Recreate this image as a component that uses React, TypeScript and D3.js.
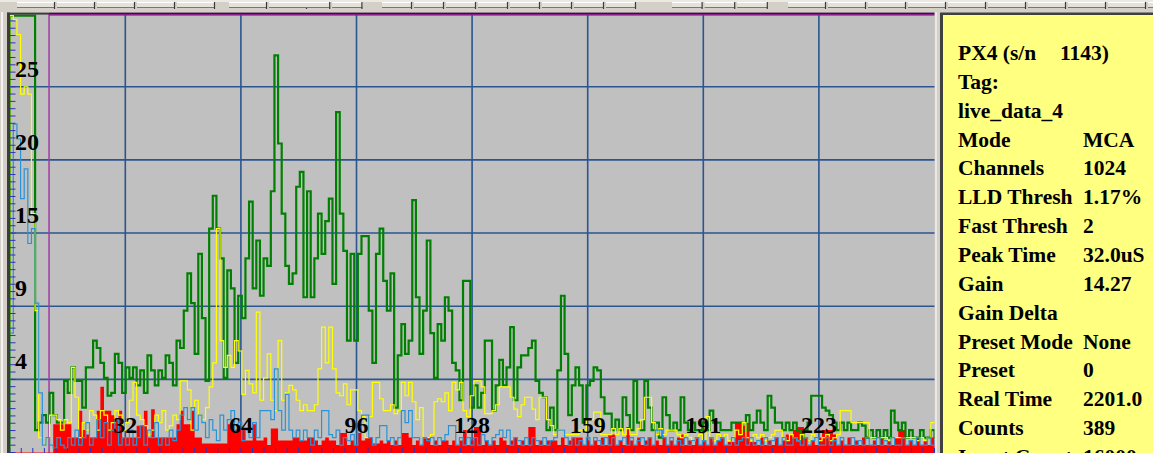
import React from 'react';
import * as d3 from 'd3';

// Spectrum counts per channel (256 channels shown), four detector traces.
const greenCounts = [
  40, 40, 40, 40, 40, 40, 40, 1.5, 2, 2.5, 2, 4, 2.5, 2, 2, 4.8,
  4, 5.7, 4.8, 4.8, 3, 5.7, 5.7, 7.5, 7, 6, 5, 3.8, 4, 6.6, 6, 4,
  5.7, 5, 5.7, 4.5, 5.5, 4, 6.5, 5.5, 4.5, 5.5, 5, 6.5, 6, 4.5, 7.5, 7,
  9.5, 12, 10, 6.6, 13.3, 9, 4.8, 15, 17.2, 15, 13, 5, 12.2, 11, 6, 10.5,
  9, 13, 16.8, 11, 14.2, 10.5, 13, 12.5, 17.5, 26.6, 20.7, 16, 12.5, 11.3, 12, 17.8,
  18.8, 10.4, 17.5, 10.4, 13, 16, 13.3, 15.5, 17, 11.3, 22.8, 16, 13.5, 7.5, 13.3, 7.5,
  13.3, 14.5, 14.5, 9.5, 6, 13.3, 15, 11.5, 9.5, 12, 3, 6.5, 8.6, 6.6, 7.5, 16.9,
  10.4, 6.6, 9.5, 14.2, 8, 5, 8.6, 7.5, 10.4, 9.5, 6, 5.5, 3.5, 11.5, 11.5, 3,
  4.5, 3, 4, 7.5, 7.5, 2.8, 4.5, 6.2, 4.5, 5.7, 8.4, 3.5, 5.7, 6.5, 6.5, 7,
  7.5, 4.8, 4, 3.7, 1.5, 3, 1.5, 5.5, 10.5, 6.6, 2.5, 4.5, 5.7, 4.5, 2, 4.5,
  4.8, 5.7, 5.5, 3.7, 2.6, 2.6, 1.5, 2.2, 1.5, 3.7, 2.5, 1.5, 4.8, 2, 1.5, 4.8,
  3, 1.5, 2, 1, 3.7, 2.5, 1.5, 2, 1.5, 3.7, 2, 1.5, 2, 1.5, 1.5, 2,
  1.5, 2.8, 2, 2, 1.5, 1.5, 1.5, 2, 2, 2, 1.5, 2.5, 1.5, 2, 2.8, 2,
  1.5, 3.8, 3, 2, 2, 1.5, 2, 1.5, 2, 1.5, 1, 1.5, 2, 3.8, 3.8, 3.8,
  3, 2.8, 2.5, 2, 1.5, 2, 1.5, 2, 1.5, 1.5, 2, 1.8, 1, 1.5, 1, 1.5,
  1, 1.5, 1, 2.8, 2, 1.5, 2, 1, 1.5, 1, 1, 1.5, 1, 1, 1.5, 1,
];

const yellowCounts = [
  40, 29, 28, 24, 24.5, 24, 16, 9.5, 1, 0.5, 1, 2.5, 2.5, 2.2, 1.5, 2.2,
  2, 5.7, 3.7, 1, 2, 1.5, 2.8, 2.5, 1.5, 2.8, 2.5, 1.5, 2, 2.8, 2.5, 1.5,
  2, 3.5, 4.7, 2.5, 2.2, 1.8, 1.2, 1.5, 2.5, 2, 2.8, 1.5, 1.8, 2.5, 2.2, 4.8,
  4.8, 4.2, 1.5, 3.5, 2.5, 2.2, 3, 4.4, 6, 15, 7.5, 5.7, 6.5, 5.7, 7.5, 6.8,
  3.9, 5.5, 4.6, 4, 9.4, 3.5, 5, 6.6, 3.5, 2.8, 7.5, 3.5, 4, 4.5, 4.2, 3.5,
  2.8, 3.2, 2.8, 2.8, 3.2, 5.6, 8.4, 6, 8.4, 5.6, 4, 3.8, 4.6, 3.2, 4.2, 4.2,
  2.8, 2.4, 1, 2.4, 4.7, 4.7, 3.6, 2.8, 2.8, 3.2, 2.6, 2.8, 4.7, 3.8, 4.7, 3.4,
  2.2, 3, 1, 1, 1.2, 3.4, 3.6, 3.4, 4, 2.8, 4.7, 4.2, 4.7, 2.8, 2.4, 3.8,
  4.8, 4.8, 4.4, 2.6, 2.6, 2.8, 3.2, 4.4, 4.4, 4.4, 3.7, 2.9, 2.4, 3.2, 3.7, 3.7,
  2.9, 2.2, 3.7, 3.7, 2.2, 1.8, 1.2, 1.5, 1.5, 1.2, 1.2, 1.2, 1.2, 1.5, 1.5, 2.2,
  2.2, 2.7, 2.7, 1.2, 1.2, 1.2, 1.6, 1.2, 1.6, 1.2, 1.6, 1.2, 1.2, 1.6, 2.2, 3.7,
  3.7, 2, 1.2, 1.6, 1.2, 1.5, 1.5, 1.5, 1.2, 1, 1.2, 1, 0.8, 1, 1.2, 0.8,
  2.4, 1, 0.8, 1.2, 1, 1.2, 0.8, 1, 1.5, 1.2, 2, 1, 0.8, 1.2, 1, 1.2,
  0.8, 1, 1.2, 1.5, 1.5, 1, 0.8, 1.2, 1, 0.8, 1.2, 1, 0.8, 1.2, 1, 0.8,
  1, 1.2, 0.8, 1, 1.2, 2.8, 2.8, 2.8, 2, 2, 2, 2, 2, 1, 1, 1,
  1, 1, 0.8, 1, 1, 1, 1, 1, 1, 1, 0.8, 1, 0.8, 1, 2, 2,
];

const blueCounts = [
  8, 22, 21, 17, 19, 14, 15, 10, 4, 0.5, 1, 0.5, 0.3, 1, 0.5, 0.3,
  1, 0.5, 1.5, 0.5, 1, 2, 0.5, 1, 2.2, 1, 2, 0.5, 1.5, 2.2, 0.5, 1,
  0.5, 1.5, 0.5, 1, 1.8, 0.5, 1.5, 1, 2, 0.5, 1, 0.5, 1.5, 0.8, 1.5, 2.5,
  3, 2.2, 3, 1.5, 2.5, 2, 1, 2.2, 1.5, 0.8, 2.5, 1.5, 2.2, 2.8, 1.5, 2,
  0.8, 1.5, 1, 2, 1, 2.8, 2.8, 2.8, 2.2, 5.6, 2.8, 1.5, 3.9, 1.5, 1, 1.5,
  0.8, 1.5, 1, 0.5, 1.5, 1, 2.8, 2.8, 1.2, 1, 1.5, 0.5, 1, 0.8, 1.2, 0.5,
  1.5, 2.5, 2.5, 1, 0.5, 1, 1.8, 1.8, 0.8, 1, 0.5, 1, 2.8, 2, 2.8, 1,
  1, 0.5, 1, 0.8, 1, 0.5, 1, 0.8, 1.2, 1.8, 1.8, 0.5, 1, 0.5, 1, 0.5,
  1, 0.5, 1.2, 0.8, 0.5, 1, 1.2, 1.5, 1, 1.5, 0.5, 1, 0.8, 0.5, 1, 0.5,
  1, 0.8, 0.5, 1, 0.5, 0.8, 1, 1.5, 1.5, 1, 0.5, 1, 0.5, 0.8, 0.5, 1,
  0.5, 1, 0.8, 0.5, 1, 0.5, 1, 0.5, 0.8, 1, 0.5, 1, 0.5, 0.8, 1, 0.5,
  1, 0.5, 1.5, 1.5, 1, 0.5, 1, 0.5, 0.8, 0.5, 1, 0.5, 0.8, 1, 0.5, 0.8,
  0.5, 1, 0.5, 0.8, 1, 0.5, 0.5, 1, 0.5, 0.8, 1, 0.5, 1, 0.5, 0.8, 0.5,
  1, 0.5, 0.8, 1, 0.5, 1, 0.5, 0.5, 1, 0.8, 0.5, 1, 0.5, 0.8, 1, 0.5,
  0.5, 1, 0.5, 0.8, 0.5, 1, 0.5, 0.5, 1, 0.5, 0.8, 0.5, 1, 0.5, 0.5, 1,
  0.5, 0.8, 0.5, 1, 0.5, 0.5, 1, 0.5, 0.8, 0.5, 1, 0.5, 0.5, 1, 0.5, 0.8,
];

const redCounts = [
  0, 0, 0, 0, 0, 0, 0, 0, 0, 0, 0, 0, 1.9, 1.9, 1.9, 1.9,
  1.9, 1, 1, 2.8, 1.5, 1.2, 1, 1, 2.8, 4.4, 2.8, 2.8, 2.5, 2.2, 2.8, 1,
  1, 1, 1, 1.8, 1.8, 2.8, 1, 2.9, 1, 1, 1, 1, 1, 1, 1.9, 2.8,
  1.9, 1.9, 2.8, 1, 1, 0.6, 0.6, 0.6, 0.6, 0.6, 0.6, 0.6, 1.9, 1.9, 1.5, 1.5,
  1.5, 0.8, 0.8, 1.9, 0.8, 0.8, 1, 0.5, 1.6, 1.6, 0.8, 0.8, 0.8, 0.8, 1, 1,
  0.8, 0.8, 1, 1, 0.8, 0.5, 0.8, 1, 0.8, 0.8, 0.5, 1.3, 1.3, 0.5, 0.8, 0.5,
  1.3, 0.8, 1, 1, 0.6, 0.6, 0.8, 0.6, 0.8, 0.5, 0.8, 0.5, 1.3, 1.3, 1, 0.5,
  0.8, 0.5, 1, 1, 0.5, 0.8, 0.5, 0.8, 0.8, 0.5, 0.8, 0.5, 0.8, 1.5, 0.5, 0.8,
  1.7, 1.7, 0.5, 0.8, 0.5, 0.8, 0.5, 1, 0.8, 0.5, 0.8, 1, 0.5, 0.8, 0.5, 1.7,
  1.7, 0.5, 0.8, 0.5, 0.8, 0.8, 0.8, 0.5, 1, 0.5, 0.8, 1, 1, 1, 0.5, 0.8,
  0.5, 0.8, 0.5, 1, 0.5, 1.2, 1.2, 0.5, 0.8, 0.5, 1.7, 0.8, 0.5, 1, 0.5, 0.8,
  1, 0.5, 0.8, 0.5, 1, 0.5, 0.8, 0.5, 1, 1.2, 0.5, 0.8, 0.5, 1, 0.5, 0.8,
  0.5, 1, 0.5, 0.8, 1, 0.5, 0.7, 0.7, 2, 2, 1.8, 2, 0.7, 0.7, 0.5, 1,
  0.5, 0.8, 0.5, 1, 0.5, 0.8, 1.2, 1.2, 1.5, 1.7, 1.7, 1, 0.5, 0.8, 0.5, 1,
  1.5, 1.5, 1.5, 1.2, 0.5, 0.8, 0.5, 1, 0.5, 0.8, 0.5, 1, 0.5, 0.5, 0.8, 0.5,
  1, 0.5, 0.8, 0.5, 1, 1.5, 1.5, 0.5, 0.8, 0.5, 1, 0.5, 0.8, 0.5, 1, 0.5,
];

const xTickLabels = ['32', '64', '96', '128', '159', '191', '223'];
const yTickLabels = ['4', '9', '15', '20', '25'];

const channelMax = 255;
const countMax = 29.4;
const roiStartChannel = 10.85;

const infoLabels = [
  'PX4 (s/n', 'Tag:', 'live_data_4', 'Mode', 'Channels', 'LLD Thresh', 'Fast Thresh',
  'Peak Time', 'Gain', 'Gain Delta', 'Preset Mode', 'Preset', 'Real Time', 'Counts', 'Input Counts',
];
const infoValues = [
  '1143)', '', '', 'MCA', '1024', '1.17%', '2', '32.0uS', '14.27', '', 'None', '0', '2201.0', '389', '16000',
];

// Header strip button groups: [start x, button width, count]
const headerGroups: [number, number, number][] = [
  [17, 40, 5],
  [229, 40, 2],
  [300, 32.2, 2],
  [382, 32, 8],
  [672, 32.6, 3],
  [788, 40, 4],
  [948, 40, 6],
];

type Pt = [number, number];

export default function App() {
  const W = 1153;
  const H = 453;
  const plot = { left: 9.7, right: 934.5, top: 13.6, bottom: 452.5 };

  const x = d3.scaleLinear().domain([0, channelMax]).range([plot.left, plot.right]);
  const y = d3.scaleLinear().domain([0, countMax]).range([plot.bottom, plot.top]);
  const yc = (v: number) => Math.max(y(v), plot.top + 2);

  const toPoints = (arr: number[]): Pt[] => [
    [0, 0],
    ...arr.map((v, i) => [i, v] as Pt),
    [arr.length, arr[arr.length - 1]],
  ];

  const stepLine = d3
    .line<Pt>()
    .x((d) => x(d[0]))
    .y((d) => yc(d[1]))
    .curve(d3.curveStepAfter);

  const stepArea = d3
    .area<Pt>()
    .x((d) => x(d[0]))
    .y0(plot.bottom + 2)
    .y1((d) => yc(d[1]))
    .curve(d3.curveStepAfter);

  const xGrid = d3.range(1, 8).map((k) => (channelMax / 8) * k);
  const yGrid = d3.range(1, 6).map((k) => (countMax / 6) * k);
  const yMinor = d3.range(0, 61).map((k) => (countMax / 60) * k);
  const xMinor = d3.range(0, 81).map((k) => (channelMax / 80) * k);

  const serif = '"Liberation Serif", "Times New Roman", serif';
  const gridColor = '#2a5690';

  const buttons: { x: number; w: number }[] = [];
  headerGroups.forEach(([sx, w, n]) => {
    for (let i = 0; i < n; i++) buttons.push({ x: sx + i * w, w });
  });

  return (
    <svg
      width={W}
      height={H}
      style={{ position: 'absolute', left: 0, top: 0, display: 'block' }}
      xmlns="http://www.w3.org/2000/svg"
    >
      <defs>
        <clipPath id="plotClip">
          <rect x={plot.left} y={plot.top} width={plot.right - plot.left} height={H - plot.top} />
        </clipPath>
      </defs>

      {/* window chrome */}
      <rect x={0} y={0} width={W} height={H} fill="#d4d0c8" />
      <line x1={2} x2={2} y1={12} y2={H} stroke="#ffffff" strokeWidth={1.5} />
      <rect x={0} y={0} width={W} height={2} fill="#ece9e2" />
      {buttons.map((b, i) => (
        <g key={i}>
          <rect x={b.x} y={2.5} width={b.w - 2} height={5} fill="#e4e1da" />
          <line x1={b.x} x2={b.x + b.w - 2} y1={2.5} y2={2.5} stroke="#ffffff" />
          <line x1={b.x} x2={b.x + b.w - 2} y1={7.5} y2={7.5} stroke="#7a7770" />
          <line x1={b.x + b.w - 2.5} x2={b.x + b.w - 2.5} y1={2} y2={9} stroke="#3a3a3a" strokeWidth={1.2} />
        </g>
      ))}

      {/* plot background */}
      <rect x={plot.left} y={plot.top} width={plot.right - plot.left} height={H - plot.top} fill="#c0c0c0" />

      {/* grid */}
      {xGrid.map((c, i) => (
        <line key={'xg' + i} x1={x(c)} x2={x(c)} y1={plot.top} y2={H} stroke={gridColor} strokeWidth={1.6} />
      ))}
      {yGrid.map((v, i) => (
        <line key={'yg' + i} x1={plot.left} x2={plot.right} y1={y(v)} y2={y(v)} stroke={gridColor} strokeWidth={1.6} />
      ))}

      {/* region-of-interest marker */}
      <line x1={x(roiStartChannel)} x2={x(roiStartChannel)} y1={plot.top} y2={H} stroke="#a33aa3" strokeWidth={1.5} />

      {/* spectra */}
      <g clipPath="url(#plotClip)">
        <path d={stepArea(toPoints(redCounts)) || ''} fill="#ff0000" />
        <path d={stepLine(toPoints(greenCounts)) || ''} fill="none" stroke="#008000" strokeWidth={2.2} />
        <path d={stepLine(toPoints(yellowCounts)) || ''} fill="none" stroke="#ffff00" strokeWidth={1.2} />
        <path d={stepLine(toPoints(blueCounts)) || ''} fill="none" stroke="#2a92d6" strokeWidth={1.2} />
      </g>

      {/* frame */}
      <rect x={7} y={12.6} width={3} height={H} fill="#3c3c3c" />
      <rect x={7} y={12.6} width={x(roiStartChannel) - 7} height={2} fill="#3c3c3c" />
      <rect x={x(roiStartChannel)} y={12.6} width={plot.right - x(roiStartChannel)} height={1.4} fill="#3a1040" />
      <rect x={x(roiStartChannel)} y={14} width={plot.right - x(roiStartChannel)} height={1.6} fill="#8a1e8a" />

      {/* minor ticks */}
      {yMinor.map((v, i) => (
        <line key={'ym' + i} x1={10} x2={15.5} y1={y(v)} y2={y(v)} stroke="#2b34b8" strokeWidth={1} />
      ))}
      {xMinor.map((c, i) => (
        <line key={'xm' + i} x1={x(c)} x2={x(c)} y1={H - 5} y2={H} stroke="#2b34b8" strokeWidth={1} />
      ))}

      {/* axis labels */}
      {yGrid.map((v, i) => (
        <text
          key={'yl' + i}
          x={15}
          y={y(v) - 10}
          fontFamily={serif}
          fontWeight="bold"
          fontSize={24}
          fill="#000"
        >
          {yTickLabels[i]}
        </text>
      ))}
      {xGrid.map((c, i) => (
        <text
          key={'xl' + i}
          x={x(c)}
          y={433}
          textAnchor="middle"
          fontFamily={serif}
          fontWeight="bold"
          fontSize={24}
          fill="#000"
        >
          {xTickLabels[i]}
        </text>
      ))}

      {/* info panel */}
      <line x1={936} x2={936} y1={12} y2={H} stroke="#ffffff" strokeWidth={1} />
      <rect x={940} y={12.5} width={W - 940} height={H} fill="#404040" />
      <rect x={943} y={15} width={W - 943} height={H} fill="#ffff80" />
      {infoLabels.map((label, i) => (
        <g key={'info' + i} fontFamily={serif} fontWeight="bold" fontSize={21.5} fill="#000">
          <text x={958} y={60 + i * 28.85}>{label}</text>
          {infoValues[i] && (
            <text x={i === 0 ? 1060 : 1083} y={60 + i * 28.85}>
              {infoValues[i]}
            </text>
          )}
        </g>
      ))}
    </svg>
  );
}
